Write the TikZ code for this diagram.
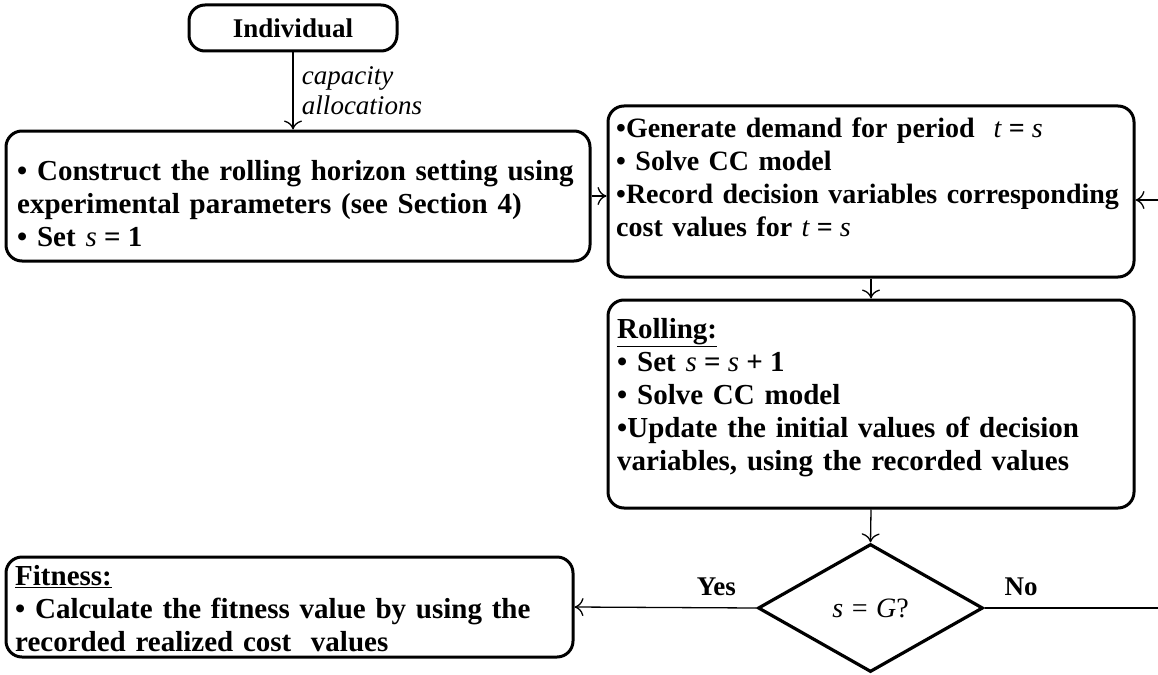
\documentclass[tikz,border=0pt]{standalone}
\usepackage{fontspec}
\setmainfont{Liberation Serif}[WordSpace=1.35]
\usetikzlibrary{shapes.geometric,arrows.meta}
\newcommand{\vr}[1]{\textnormal{\itshape #1}}
\newcommand{\myeq}{\hspace{0.25em}=\hspace{0.25em}}
\newcommand{\myplus}{\hspace{0.25em}+\hspace{0.25em}}
\begin{document}
\begin{tikzpicture}[x=1pt,y=-1pt,
  box/.style={draw, line width=3pt, rounded corners=16pt, inner sep=0pt},
  txt/.style={anchor=north west, inner sep=0pt, align=left, font=\fontsize{29}{33}\selectfont\bfseries},
  arr/.style={-{To[length=9pt,width=18pt,line width=1.3pt]}, line width=1.3pt},
  lbl/.style={font=\fontsize{27}{32}\selectfont\bfseries},
]
\useasboundingbox (0,0) rectangle (1158,674);

% boxes
\node[box, minimum width=208pt, minimum height=46pt, font=\fontsize{27}{32}\selectfont\bfseries]
  (ind) at (293,28) {Individual};
\node[box, minimum width=584pt, minimum height=130pt] (con) at (298,196) {};
\node[box, minimum width=526pt, minimum height=171pt] (gen) at (871,191.5) {};
\node[box, minimum width=526pt, minimum height=208pt] (rol) at (871,404) {};
\node[box, minimum width=567pt, minimum height=100pt] (fit) at (289.5,607) {};
\node[draw, diamond, line width=3.2pt, inner sep=0pt, minimum width=225pt, minimum height=128pt,
  aspect=1.76, font=\fontsize{28}{32}\selectfont] (dec) at (870.5,608) {\itshape s\myeq G\upshape ?};

% texts
\node[txt] (tcon) at (17,160)
  {• Construct the rolling horizon setting using\\
   experimental parameters (see Section 4)\\
   • Set \vr{s}\myeq 1};
\node[txt, font=\fontsize{28}{33}\selectfont\bfseries] (tgen) at (616,118)
  {•Generate demand for period\ \ \vr{t}\myeq\vr{s}\\
   • Solve CC model\\
   •Record decision variables corresponding\\
   cost values for \vr{t}\myeq\vr{s}};
\node[txt] (trol) at (617,318)
  {\underline{Rolling:}\\
   • Set \vr{s}\myeq\vr{s}\myplus 1\\
   • Solve CC model\\
   •Update the initial values of decision\\
   variables, using the recorded values};
\node[txt] (tfit) at (15,565)
  {\underline{Fitness:}\\
   • Calculate the fitness value by using the\\
   recorded realized cost\ \ values};

\coordinate (rin) at (1158,200);
\coordinate (rout) at (1158,608);

\draw[arr] (ind.south) -- (ind.south |- con.north)
  node[pos=0.5, right=5pt, align=left, font=\fontsize{27}{30}\selectfont\itshape] {capacity\\allocations};
\draw[arr] (con.east) -- (con.east -| gen.west);
\draw[arr] (rin) -- (rin -| gen.east);
\draw[arr] (gen.south) -- (rol.north);
\draw[arr] (rol.south) -- (dec.north);
\draw[arr] (dec.west) -- (fit.east) node[pos=0.22, above=8pt, lbl] {Yes};
\draw[line width=1.3pt] (dec.east) -- (rout) node[pos=0.21, above=8pt, lbl] {No};
\end{tikzpicture}
\end{document}
